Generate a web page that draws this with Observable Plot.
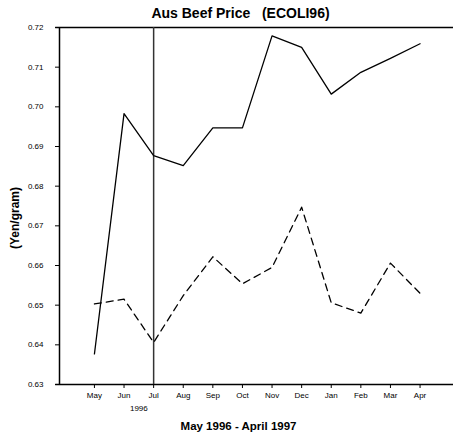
<!DOCTYPE html>
<html>
<head>
<meta charset="utf-8">
<script src="https://cdn.jsdelivr.net/npm/d3@7"></script>
<script src="https://cdn.jsdelivr.net/npm/@observablehq/plot@0.6"></script>
<style>
  html, body { margin: 0; padding: 0; background: #fff; }
  svg { display: block; }
</style>
</head>
<body>
<div id="chart"></div>
<script>
const months = ["May","Jun","Jul","Aug","Sep","Oct","Nov","Dec","Jan","Feb","Mar","Apr"];
const solidValues = [0.6377, 0.6983, 0.6877, 0.6852, 0.6947, 0.6947, 0.7179, 0.7150, 0.7032, 0.7087, 0.7122, 0.7159];
const dashedValues = [0.6503, 0.6515, 0.6406, 0.6524, 0.6622, 0.6554, 0.6595, 0.6747, 0.6506, 0.6480, 0.6606, 0.6530];
const yTicks = [0.63, 0.64, 0.65, 0.66, 0.67, 0.68, 0.69, 0.70, 0.71, 0.72];
const titleText = "Aus Beef Price   (ECOLI96)";
const xLabel = "May 1996 - April 1997";
const yLabel = "(Yen/gram)";
const yearLabel = "1996";
const markerMonth = 2;

const solid = months.map((m, i) => ({i, v: solidValues[i]}));
const dashed = months.map((m, i) => ({i, v: dashedValues[i]}));

const chart = Plot.plot({
  width: 453,
  height: 436,
  marginLeft: 59,
  marginRight: 0,
  marginTop: 27,
  marginBottom: 52,
  style: {fontFamily: "'Liberation Sans', Arial, sans-serif", fontSize: "8px", color: "#000", background: "#fff"},
  x: {domain: [-1.18, 12.13], ticks: d3.range(months.length), tickFormat: i => months[i], tickSize: 4, tickPadding: 4, label: null},
  y: {domain: [0.63, 0.72], ticks: yTicks, tickFormat: d3.format(".2f"), tickSize: 4, tickPadding: 12, label: null},
  marks: [
    Plot.ruleY([0.63, 0.72], {x1: -1.31, x2: 12.13, stroke: "#000", strokeWidth: 1.5}),
    Plot.ruleX([-1.18], {y1: 0.63, y2: 0.72, stroke: "#000", strokeWidth: 1.5}),
    Plot.ruleX([markerMonth], {y1: 0.63, y2: 0.72, stroke: "#333", strokeWidth: 1.5}),
    Plot.line(solid, {x: "i", y: "v", stroke: "#000", strokeWidth: 1.3}),
    Plot.line(dashed, {x: "i", y: "v", stroke: "#000", strokeWidth: 1.3, strokeDasharray: "7,5"}),
    Plot.text([yearLabel], {x: 1.5, y: 0.63, dy: 24, text: d => d, fontSize: 8}),
    Plot.text([titleText], {frameAnchor: "top", dx: -16, dy: -19, text: d => d, fontSize: 14, fontWeight: "bold"}),
    Plot.text([xLabel], {frameAnchor: "bottom", dx: -18, dy: 45, text: d => d, fontSize: 11.5, fontWeight: "bold"}),
    Plot.text([yLabel], {frameAnchor: "left", textAnchor: "middle", dx: -44, dy: 12, rotate: -90, text: d => d, fontSize: 12, fontWeight: "bold"})
  ]
});
document.getElementById("chart").appendChild(chart);
</script>
</body>
</html>
